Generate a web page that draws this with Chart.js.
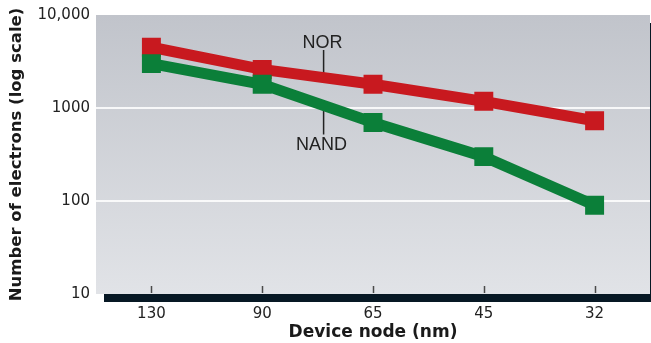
<!DOCTYPE html>
<html>
<head>
<meta charset="utf-8">
<script src="https://cdn.jsdelivr.net/npm/chart.js@4/dist/chart.umd.min.js"></script>
<style>
  html, body { margin: 0; padding: 0; background: #fff; }
  #wrap { width: 651px; height: 343px; }
</style>
</head>
<body>
<div id="wrap"><canvas id="chart" width="651" height="343"></canvas></div>
<script>
// Data
const nodes = ['130', '90', '65', '45', '32'];
const norValues = [4500, 2600, 1800, 1180, 730];
const nandValues = [3000, 1800, 700, 300, 90];
const yTicks = [10, 100, 1000, 10000];

const RED = '#c8191f';
const GREEN = '#0b7f39';

// Background gradient, bottom bar, tick marks and line labels
const decor = {
    id: 'decor',
    beforeDatasetsDraw(chart) {
        const { ctx, chartArea: a, scales } = chart;
        ctx.save();
        const g = ctx.createLinearGradient(0, a.top, 0, a.bottom);
        g.addColorStop(0, '#c1c4cb');
        g.addColorStop(1, '#e1e3e7');
        ctx.fillStyle = g;
        ctx.fillRect(a.left, a.top, a.right - a.left, a.bottom - a.top);

        // white gridlines
        ctx.strokeStyle = 'rgba(255,255,255,0.85)';
        ctx.lineWidth = 2;
        [100, 1000].forEach(v => {
            const y = Math.round(scales.y.getPixelForValue(v));
            ctx.beginPath();
            ctx.moveTo(a.left, y);
            ctx.lineTo(a.right, y);
            ctx.stroke();
        });

        // small tick marks above the bar
        ctx.strokeStyle = '#4a4a4a';
        ctx.lineWidth = 1.5;
        nodes.forEach((n, i) => {
            const x = Math.round(scales.x.getPixelForValue(i)) + 0.5;
            ctx.beginPath();
            ctx.moveTo(x, a.bottom - 8);
            ctx.lineTo(x, a.bottom - 1);
            ctx.stroke();
        });

        // dark baseline bar and right edge
        ctx.fillStyle = '#071824';
        ctx.fillRect(a.left + 8, a.bottom, a.right - a.left - 7, 8);
        ctx.fillRect(a.right, a.top + 8, 2, a.bottom - a.top - 8);

        // leader lines
        const lx = (scales.x.getPixelForValue(1) + scales.x.getPixelForValue(2)) / 2 + 6;
        ctx.strokeStyle = '#222';
        ctx.lineWidth = 1.5;
        ctx.beginPath();
        ctx.moveTo(lx, scales.y.getPixelForValue(4200));
        ctx.lineTo(lx, scales.y.getPixelForValue(2150));
        ctx.moveTo(lx, scales.y.getPixelForValue(1000));
        ctx.lineTo(lx, scales.y.getPixelForValue(520));
        ctx.stroke();

        ctx.fillStyle = '#222';
        ctx.font = '18px "Liberation Sans", Arial, sans-serif';
        ctx.textAlign = 'center';
        ctx.textBaseline = 'middle';
        ctx.fillText('NOR', lx - 1, scales.y.getPixelForValue(5000));
        ctx.fillText('NAND', lx - 2, scales.y.getPixelForValue(400));
        ctx.restore();
    }
};

new Chart(document.getElementById('chart'), {
    type: 'line',
    data: {
        labels: nodes,
        datasets: [
            {
                label: 'NAND',
                data: nandValues,
                borderColor: GREEN,
                backgroundColor: GREEN,
                borderWidth: 11,
                pointStyle: 'rect',
                pointRadius: 13.4,
                pointBorderWidth: 0,
                tension: 0
            },
            {
                label: 'NOR',
                data: norValues,
                borderColor: RED,
                backgroundColor: RED,
                borderWidth: 11,
                pointStyle: 'rect',
                pointRadius: 13.4,
                pointBorderWidth: 0,
                tension: 0
            }
        ]
    },
    options: {
        responsive: false,
        animation: false,
        layout: { autoPadding: false, padding: { top: 14, right: 1, left: 0, bottom: 0 } },
        plugins: {
            legend: { display: false },
            tooltip: { enabled: false }
        },
        scales: {
            x: {
                offset: true,
                grid: { display: false, drawTicks: false },
                border: { display: false },
                ticks: {
                    color: '#222',
                    padding: 11,
                    font: { family: '"DejaVu Sans", sans-serif', size: 15 }
                },
                title: {
                    display: true,
                    text: 'Device node (nm)',
                    color: '#1a1a1a',
                    padding: { top: 2, bottom: 0 },
                    font: { family: '"DejaVu Sans", sans-serif', size: 17, weight: 'bold' }
                },
                afterFit(scale) {
                    scale.height = 49;
                    scale.paddingLeft = 0;
                    scale.paddingRight = 0;
                }
            },
            y: {
                type: 'logarithmic',
                min: 10,
                max: 10000,
                grid: { display: false, drawTicks: false },
                border: { display: false },
                afterBuildTicks(scale) {
                    scale.ticks = yTicks.map(v => ({ value: v }));
                },
                ticks: {
                    color: '#222',
                    padding: 6,
                    font: { family: '"DejaVu Sans", sans-serif', size: 15 },
                    callback: v => v === 10000 ? '10,000' : String(v)
                },
                title: {
                    display: true,
                    text: 'Number of electrons (log scale)',
                    color: '#1a1a1a',
                    padding: { top: 7, bottom: 0 },
                    font: { family: '"DejaVu Sans", sans-serif', size: 16.5, weight: 'bold' }
                },
                afterFit(scale) { scale.width = 96; }
            }
        }
    },
    plugins: [decor]
});
</script>
</body>
</html>
